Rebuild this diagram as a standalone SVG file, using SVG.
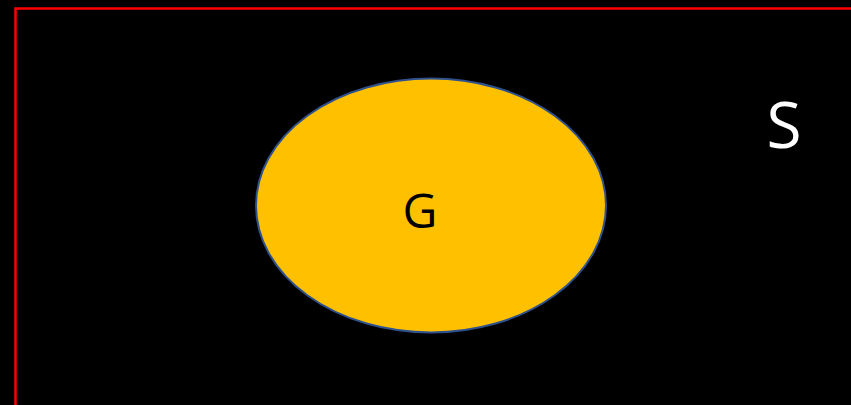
<svg xmlns="http://www.w3.org/2000/svg" width="851" height="405" viewBox="0 0 851 405">
  <style>
    .lbl { font-family: "Open Sans", "Noto Sans", "Liberation Sans", sans-serif; text-anchor: middle; }
  </style>
  <rect x="0" y="0" width="851" height="405" fill="#000000"/>
  <g id="S">
    <rect x="15.5" y="8.5" width="900" height="450" fill="none" stroke="#FF0000" stroke-width="2.5"/>
    <text class="lbl" x="784" y="147.5" font-size="64" fill="#FFFFFF">S</text>
  </g>
  <g id="G">
    <ellipse cx="431" cy="205.5" rx="175" ry="127" fill="#FFC000" stroke="#2F528F" stroke-width="2"/>
    <text class="lbl" x="420" y="228" font-size="48" fill="#000000">G</text>
  </g>
  <g id="connectors"/>
</svg>
